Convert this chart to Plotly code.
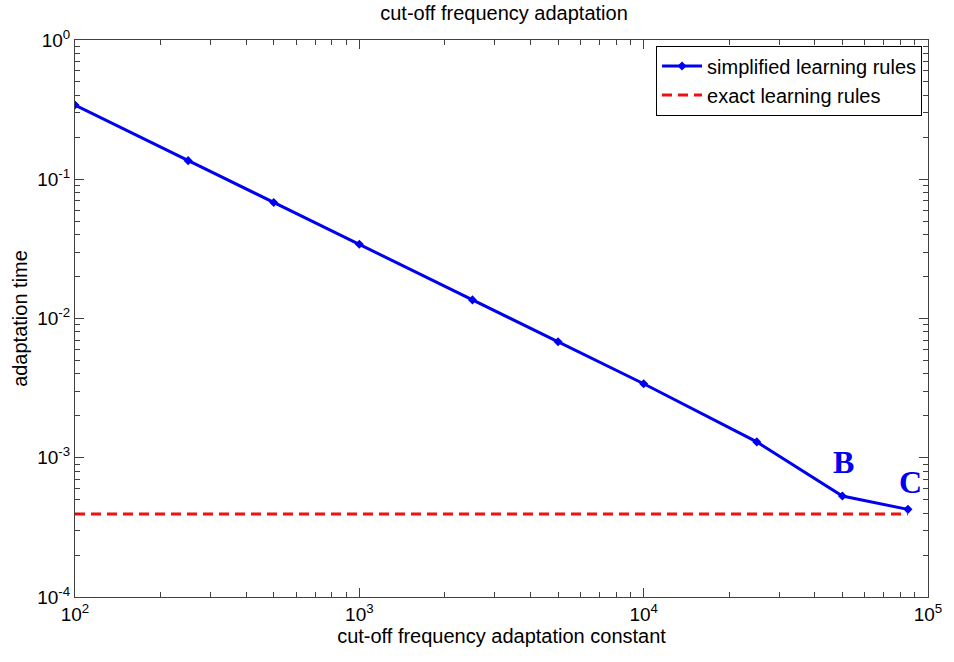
import plotly.graph_objects as go
import math

# data
adapt_const = [100, 250, 500, 1000, 2500, 5000, 10000, 25000, 50000, 85000]
simplified_time = [0.341, 0.136, 0.068, 0.0341, 0.0136, 0.0068, 0.0034, 0.00130, 0.000531, 0.000426]
exact_x = [100, 85000]
exact_time = [0.000395, 0.000395]

x_tickvals = [100, 1000, 10000, 100000]
x_ticktext = ["10<sup>2</sup>", "10<sup>3</sup>", "10<sup>4</sup>", "10<sup>5</sup>"]
y_tickvals = [1e-4, 1e-3, 1e-2, 1e-1, 1]
y_ticktext = ["10<sup>-4</sup>", "10<sup>-3</sup>", "10<sup>-2</sup>", "10<sup>-1</sup>", "10<sup>0</sup>"]

x_minor = [m * 10 ** k for k in range(2, 5) for m in range(2, 10)]
y_minor = [m * 10.0 ** k for k in range(-4, 0) for m in range(2, 10)]

blue = "#0000f0"
red = "#f01010"
axis_col = "#404040"
font_family = "Liberation Sans"

fig = go.Figure()
fig.add_trace(go.Scatter(
    x=adapt_const, y=simplified_time, mode="lines+markers",
    name="simplified learning rules",
    line=dict(color=blue, width=3),
    marker=dict(symbol="diamond", size=7, color=blue),
))
fig.add_trace(go.Scatter(
    x=exact_x, y=exact_time, mode="lines",
    name="exact learning rules",
    line=dict(color=red, width=3, dash="10px,6px"),
))

# point labels B and C
fig.add_annotation(x=math.log10(adapt_const[-2]), y=math.log10(simplified_time[-2]),
                   text="<b>B</b>", showarrow=False, yshift=34, xshift=1,
                   font=dict(family="Liberation Serif", size=32, color=blue))
fig.add_annotation(x=math.log10(adapt_const[-1]), y=math.log10(simplified_time[-1]),
                   text="<b>C</b>", showarrow=False, yshift=27, xshift=3,
                   font=dict(family="Liberation Serif", size=32, color=blue))

axis_common = dict(
    showline=True, linecolor=axis_col, linewidth=1, mirror="allticks",
    ticks="inside", ticklen=9, tickcolor=axis_col, tickwidth=1,
    showgrid=False, zeroline=False,
    tickfont=dict(family=font_family, size=19, color="black"),
)

fig.update_xaxes(type="log", range=[2, 5], tickvals=x_tickvals, ticktext=x_ticktext,
                 minor=dict(tickvals=x_minor, ticks="inside", ticklen=5, tickcolor=axis_col, showgrid=False),
                 title=dict(text="cut-off frequency adaptation constant",
                            font=dict(family=font_family, size=20, color="black"), standoff=4),
                 **axis_common)
fig.update_yaxes(type="log", range=[-4, 0], tickvals=y_tickvals, ticktext=y_ticktext,
                 minor=dict(tickvals=y_minor, ticks="inside", ticklen=5, tickcolor=axis_col, showgrid=False),
                 title=dict(text="adaptation time",
                            font=dict(family=font_family, size=20, color="black"), standoff=4),
                 **axis_common)

fig.update_layout(
    width=954, height=662,
    margin=dict(l=75, r=21, t=40, b=65),
    paper_bgcolor="white", plot_bgcolor="white",
    title=dict(text="cut-off frequency adaptation", x=0.5 + (75 - 21) / 2 / 954, xanchor="center",
               y=1 - 13 / 662, yanchor="middle",
               font=dict(family=font_family, size=20, color="black")),
    legend=dict(x=0.993, y=0.99, xanchor="right", yanchor="top",
                bgcolor="white", bordercolor="black", borderwidth=1,
                font=dict(family=font_family, size=20, color="black"),
                itemwidth=40, tracegroupgap=0),
    showlegend=True,
)

fig.write_html("out.html")
